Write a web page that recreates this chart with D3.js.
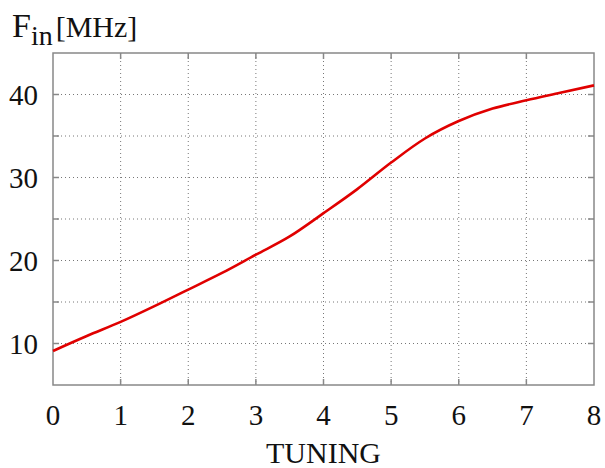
<!DOCTYPE html>
<html>
<head>
<meta charset="utf-8">
<script src="https://d3js.org/d3.v7.min.js"></script>
<style>
  body { margin: 0; background: #fff; }
  text { font-family: "Liberation Serif", "DejaVu Serif", serif; fill: #111; }
</style>
</head>
<body>
<svg id="chart" width="605" height="468"></svg>
<script>
// tuning voltage vs input frequency
var tuning = [0, 0.5, 1, 1.5, 2, 2.5, 3, 3.5, 4, 4.5, 5, 5.5, 6, 6.5, 7, 7.5, 8];
var freq = [9.1, 10.9, 12.6, 14.5, 16.5, 18.5, 20.7, 22.9, 25.7, 28.6, 31.8, 34.7, 36.8, 38.3, 39.3, 40.2, 41.1];
var xTicks = [0, 1, 2, 3, 4, 5, 6, 7, 8];
var yTicks = [5, 10, 15, 20, 25, 30, 35, 40, 45];
var yLabels = [10, 20, 30, 40];

var pl = 53, pr = 594, pt = 53, pb = 385;

var svg = d3.select("#chart");

var x = d3.scaleLinear().domain([0, 8]).range([pl, pr]);
var y = d3.scaleLinear().domain([5, 45]).range([pb, pt]);

var grid = svg.append("g")
    .attr("stroke", "#777")
    .attr("stroke-width", 1)
    .attr("stroke-dasharray", "1,3");

grid.selectAll(".vg")
  .data(xTicks.slice(1, -1))
  .enter().append("line")
    .attr("x1", function(d) { return x(d); })
    .attr("x2", function(d) { return x(d); })
    .attr("y1", pt)
    .attr("y2", pb);

grid.selectAll(".hg")
  .data(yTicks.slice(1, -1))
  .enter().append("line")
    .attr("x1", pl)
    .attr("x2", pr)
    .attr("y1", function(d) { return y(d); })
    .attr("y2", function(d) { return y(d); });

// inward ticks on all four sides
var ticks = svg.append("g").attr("stroke", "#888").attr("stroke-width", 1.5);
var tl = 6;
xTicks.slice(1, -1).forEach(function(d) {
  ticks.append("line").attr("x1", x(d)).attr("x2", x(d)).attr("y1", pb).attr("y2", pb - tl);
  ticks.append("line").attr("x1", x(d)).attr("x2", x(d)).attr("y1", pt).attr("y2", pt + tl);
});
yTicks.slice(1, -1).forEach(function(d) {
  ticks.append("line").attr("x1", pl).attr("x2", pl + tl).attr("y1", y(d)).attr("y2", y(d));
  ticks.append("line").attr("x1", pr).attr("x2", pr - tl).attr("y1", y(d)).attr("y2", y(d));
});

svg.append("rect")
    .attr("x", pl)
    .attr("y", pt)
    .attr("width", pr - pl)
    .attr("height", pb - pt)
    .attr("fill", "none")
    .attr("stroke", "#888")
    .attr("stroke-width", 1.5);

// tick labels
svg.selectAll(".xl")
  .data(xTicks)
  .enter().append("text")
    .attr("x", function(d) { return x(d); })
    .attr("y", 425)
    .attr("text-anchor", "middle")
    .attr("font-size", 29)
    .text(function(d) { return d; });

svg.selectAll(".yl")
  .data(yLabels)
  .enter().append("text")
    .attr("x", 38)
    .attr("y", function(d) { return y(d) + 10; })
    .attr("text-anchor", "end")
    .attr("font-size", 29)
    .text(function(d) { return d; });

// axis titles
svg.append("text")
    .attr("x", (pl + pr) / 2)
    .attr("y", 463)
    .attr("text-anchor", "middle")
    .attr("font-size", 30)
    .text("TUNING");

var title = svg.append("text").attr("x", 12).attr("y", 37);
title.append("tspan").attr("font-size", 34).text("F");
title.append("tspan").attr("font-size", 28).attr("dy", 8).text("in");
title.append("tspan").attr("font-size", 30).attr("dy", -8).attr("dx", 3).text("[MHz]");

// curve
var line = d3.line()
    .x(function(d, i) { return x(tuning[i]); })
    .y(function(d) { return y(d); })
    .curve(d3.curveMonotoneX);

svg.append("path")
    .datum(freq)
    .attr("fill", "none")
    .attr("stroke", "#e00000")
    .attr("stroke-width", 2.6)
    .attr("d", line);
</script>
</body>
</html>
